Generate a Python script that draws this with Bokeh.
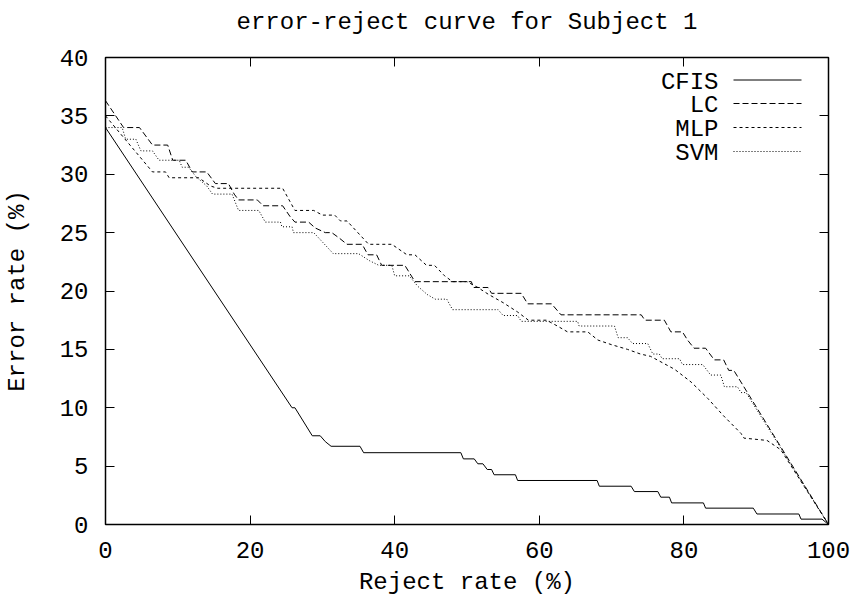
from bokeh.plotting import figure
from bokeh.models import Range1d, LinearAxis, Label, Arrow, FixedTicker
from bokeh.embed import file_html
from bokeh.resources import INLINE

# ---------------- data ----------------
title_text = "error-reject curve for Subject 1"
x_label = "Reject rate (%)"
y_label = "Error rate (%)"
x_ticks = [0, 20, 40, 60, 80, 100]
y_ticks = [0, 5, 10, 15, 20, 25, 30, 35, 40]

series_names = ["CFIS", "LC", "MLP", "SVM"]

cfis_x = [0, 25.8, 26.2, 28.6, 29.7, 30.4, 31.2, 35.2, 35.7, 49.15, 49.5, 51.0, 51.5, 52.2,
          52.8, 53.4, 53.75, 56.7, 57.0, 68.0, 68.3, 72.7, 73.15, 76.4, 76.8, 78.0, 78.3,
          82.7, 83.0, 89.6, 90.1, 95.9, 96.2, 99.1, 100]
cfis_y = [34.0, 10.0, 10.0, 7.6, 7.6, 7.1, 6.7, 6.7, 6.15, 6.15, 5.62, 5.62, 5.2, 5.2,
          4.71, 4.71, 4.26, 4.26, 3.77, 3.77, 3.28, 3.28, 2.82, 2.82, 2.34, 2.34, 1.85,
          1.85, 1.4, 1.4, 0.9, 0.9, 0.46, 0.46, 0]

lc_x = [0, 2.5, 4.7, 6.5, 8.6, 9.3, 11.1, 12.0, 14.0, 15.2, 17.0, 17.8, 18.4, 21.0, 21.8,
        24.5, 25.5, 26.2, 28.1, 29.0, 30.4, 31.3, 32.4, 33.4, 35.5, 36.3, 37.5, 38.2, 41.4,
        42.8, 50.6, 50.9, 52.9, 53.4, 57.5, 58.4, 61.7, 63.0, 74.1, 74.6, 77.3, 78.2, 79.8,
        80.5, 81.4, 83.0, 84.2, 85.5, 86.2, 86.9, 100]
lc_y = [36.3, 34.0, 34.0, 32.5, 32.5, 31.2, 31.2, 30.2, 30.2, 29.2, 29.2, 28.3, 27.8, 27.8,
        27.3, 27.3, 26.4, 25.9, 25.9, 25.4, 25.0, 25.0, 24.5, 24.0, 24.0, 23.1, 23.1, 22.2,
        22.2, 20.8, 20.8, 20.3, 20.3, 19.8, 19.8, 18.9, 18.9, 17.96, 17.96, 17.5, 17.5, 16.5,
        16.5, 15.8, 15.1, 15.1, 14.1, 14.1, 13.2, 13.2, 0]

mlp_x = [0, 6.5, 8.3, 8.8, 12.9, 14.5, 15.5, 24.5, 26.2, 28.8, 30.0, 31.7, 32.5, 33.4, 36.4,
         39.6, 41.7, 42.8, 44.4, 45.5, 46.9, 48.0, 50.0, 51.5, 53.0, 55.0, 57.0, 58.5, 61.0,
         62.5, 63.9, 66.7, 68.1, 70.0, 72.2, 74.0, 75.4, 78.7, 81.0, 83.3, 85.5, 87.9, 88.3,
         91.5, 93.4, 100]
mlp_y = [35.0, 30.2, 30.2, 29.7, 29.7, 29.0, 28.8, 28.8, 26.9, 26.9, 26.5, 26.5, 26.0, 26.0,
         24.0, 24.0, 23.1, 23.1, 22.2, 22.2, 21.3, 20.8, 20.8, 20.3, 19.7, 19.0, 18.2, 17.5,
         17.5, 17.0, 16.5, 16.5, 15.8, 15.4, 15.0, 14.6, 14.4, 13.3, 12.2, 10.8, 9.3, 7.8,
         7.4, 7.2, 6.4, 0]

svm_x = [0, 2.3, 2.8, 4.2, 4.9, 6.5, 7.4, 10.2, 10.6, 11.5, 12.5, 14.0, 14.8, 17.5, 18.4,
         21.2, 22.1, 24.2, 24.4, 25.8, 26.0, 28.8, 31.5, 35.0, 36.5, 37.8, 39.6, 40.0, 42.0,
         43.2, 44.5, 45.6, 47.2, 48.0, 54.3, 55.0, 57.0, 57.5, 65.3, 65.5, 70.4, 70.9, 72.2,
         72.9, 75.0, 75.7, 76.6, 77.0, 79.4, 79.8, 82.6, 83.7, 85.1, 85.6, 87.4, 87.9, 88.6,
         100]
svm_y = [34.0, 34.0, 33.0, 33.0, 32.0, 32.0, 31.2, 31.2, 30.6, 30.6, 29.8, 29.0, 28.3, 28.3,
         26.9, 26.9, 25.9, 25.9, 25.5, 25.5, 25.0, 25.0, 23.2, 23.2, 22.6, 22.2, 22.2, 21.3,
         21.3, 20.4, 19.7, 19.3, 19.3, 18.4, 18.4, 17.9, 17.9, 17.4, 17.4, 17.0, 17.0, 16.0,
         16.0, 15.5, 15.5, 14.6, 14.6, 14.2, 14.2, 13.7, 13.7, 12.8, 12.8, 11.8, 11.8, 11.3,
         11.3, 0]

series_x = [cfis_x, lc_x, mlp_x, svm_x]
series_y = [cfis_y, lc_y, mlp_y, svm_y]
series_dash = ["solid", "6 3", "3 3", "1 2"]

# ---------------- style ----------------
FONT = "Liberation Mono"
FS = "24px"

p = figure(width=858, height=598, output_backend="svg", toolbar_location=None,
           title=None,
           x_range=Range1d(0, 100), y_range=Range1d(0, 40),
           min_border_left=103, min_border_right=30, min_border_top=57,
           min_border_bottom=74)
p.xgrid.visible = False
p.ygrid.visible = False
p.background_fill_color = "white"
p.border_fill_color = "white"
p.outline_line_color = "black"
p.outline_line_width = 1.5

for ax in (p.xaxis[0], p.yaxis[0]):
    ax.major_tick_in = 9
    ax.major_tick_out = 0
    ax.minor_tick_line_color = None
    ax.axis_line_color = "black"
    ax.major_tick_line_color = "black"
    ax.major_label_text_font = FONT
    ax.major_label_text_font_size = FS
    ax.major_label_text_color = "black"
    ax.axis_label_text_font = FONT
    ax.axis_label_text_font_size = FS
    ax.axis_label_text_font_style = "normal"
    ax.axis_label_text_color = "black"

p.xaxis[0].ticker = FixedTicker(ticks=x_ticks)
p.yaxis[0].ticker = FixedTicker(ticks=y_ticks)
p.xaxis[0].major_label_standoff = 17
p.yaxis[0].major_label_standoff = 17
p.xaxis[0].axis_label = x_label
p.xaxis[0].axis_label_standoff = 8
p.yaxis[0].axis_label = y_label
p.yaxis[0].axis_label_standoff = 26

# mirrored ticks on right/top (no tick labels); the title sits on the top axis
right_ax = LinearAxis(ticker=FixedTicker(ticks=y_ticks), major_tick_in=9, major_tick_out=0,
                      major_label_overrides={t: "" for t in y_ticks},
                      major_label_text_font_size="2px",
                      minor_tick_line_color=None, axis_line_color="black",
                      major_label_standoff=0)
top_ax = LinearAxis(ticker=FixedTicker(ticks=x_ticks), major_tick_in=9, major_tick_out=0,
                    major_label_overrides={t: "" for t in x_ticks},
                    major_label_text_font_size="2px",
                    minor_tick_line_color=None, axis_line_color="black",
                    major_label_standoff=0,
                    axis_label=title_text, axis_label_text_font=FONT,
                    axis_label_text_font_size=FS, axis_label_text_font_style="normal",
                    axis_label_text_color="black", axis_label_standoff=22)
p.add_layout(right_ax, "right")
p.add_layout(top_ax, "above")

for xs, ys, dash in zip(series_x, series_y, series_dash):
    p.line(xs, ys, line_color="black", line_width=1, line_dash=dash)

# legend (gnuplot style: label right-aligned, sample to the right)
leg_baselines = [442.5, 419, 395, 371]
for name, dash, yb in zip(series_names, series_dash, leg_baselines):
    p.add_layout(Label(x=613, y=yb, x_units="screen", y_units="screen", text=name,
                       text_font=FONT, text_font_size=FS, text_align="right",
                       text_baseline="alphabetic", text_color="black"))
    p.add_layout(Arrow(end=None, x_start=628, y_start=yb + 2, x_end=696, y_end=yb + 2,
                       start_units="screen", end_units="screen", line_color="black",
                       line_width=1, line_dash=dash))

open("out.html", "w").write(file_html(p, INLINE))
